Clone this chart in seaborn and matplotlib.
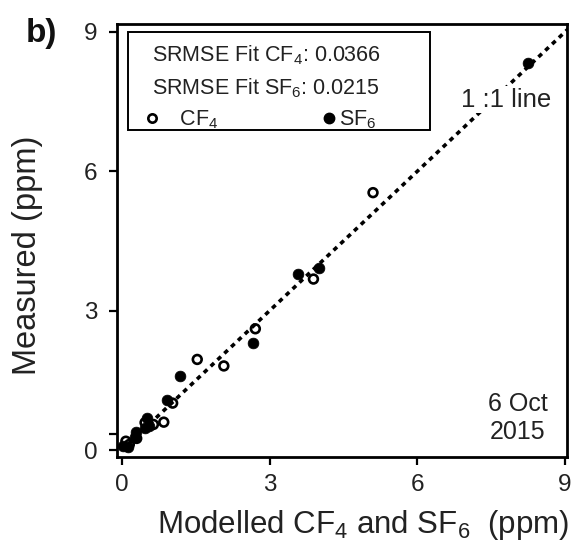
import matplotlib
matplotlib.use("Agg")
import matplotlib.pyplot as plt
import seaborn as sns
import pandas as pd
from matplotlib.patches import Rectangle
from matplotlib.lines import Line2D

# ---- data ----
cf4_model = [5.10, 3.89, 2.71, 2.07, 1.53, 1.03, 0.85, 0.64, 0.47, 0.30, 0.08, 0.15]
cf4_meas  = [5.54, 3.68, 2.61, 1.81, 1.95, 1.01, 0.60, 0.55, 0.59, 0.25, 0.19, 0.12]
sf6_model = [8.25, 4.01, 3.58, 2.67, 1.18, 0.92, 0.50, 0.47, 0.29, 0.26, 0.03, 0.13, 0.55]
sf6_meas  = [8.33, 3.92, 3.79, 2.30, 1.59, 1.07, 0.68, 0.47, 0.38, 0.27, 0.08, 0.07, 0.52]
line_1to1 = [0.0, 9.1]
x_ticks = [0, 3, 6, 9]
y_ticks = [0, 0.34, 3, 6, 9]
y_tick_labels = ["0", "", "3", "6", "9"]
srmse_cf4 = "0.0366"
srmse_sf6 = "0.0215"

sns.set_theme(style="ticks")
plt.rcParams["font.family"] = ["Liberation Sans", "DejaVu Sans"]
plt.rcParams["mathtext.fontset"] = "custom"
plt.rcParams["mathtext.rm"] = "Liberation Sans"
plt.rcParams["mathtext.it"] = "Liberation Sans:italic"
plt.rcParams["mathtext.bf"] = "Liberation Sans:bold"

TXT = "#222222"
fig = plt.figure(figsize=(5.78, 5.51), dpi=100)
ax = fig.add_axes([117/578, 94/551, 450/578, 433/551])

df_cf4 = pd.DataFrame({"model": cf4_model, "meas": cf4_meas})
df_sf6 = pd.DataFrame({"model": sf6_model, "meas": sf6_meas})

ax.plot(line_1to1, line_1to1, color="black", lw=2.6, linestyle=(0, (1.3, 1.3)), zorder=1)

sns.scatterplot(data=df_sf6, x="model", y="meas", ax=ax, marker="o", s=60,
                color="black", edgecolor="black", linewidth=0.5, zorder=3)
sns.scatterplot(data=df_cf4, x="model", y="meas", ax=ax, marker="o", s=40,
                facecolor="none", edgecolor="black", linewidth=1.9, zorder=4)

ax.set_xlim(-0.10, 9.04)
ax.set_ylim(-0.15, 9.17)
ax.set_xticks(x_ticks)
ax.set_xticklabels([str(t) for t in x_ticks])
ax.set_yticks(y_ticks)
ax.set_yticklabels(y_tick_labels)
ax.tick_params(direction="out", length=6, width=1.6, labelsize=17.5, color="black",
               labelcolor=TXT)
ax.tick_params(axis="y", pad=8)
ax.tick_params(axis="x", pad=6)
for sp in ax.spines.values():
    sp.set_visible(True)
    sp.set_linewidth(2.0)
    sp.set_color("black")

ax.set_xlabel("Modelled CF$_4$ and SF$_6$  (ppm)", fontsize=22.5, color=TXT)
ax.set_ylabel("Measured (ppm)", fontsize=23.5, color=TXT)
ax.yaxis.set_label_coords(-0.165, 0.465)
ax.xaxis.set_label_coords(0.548, -0.118)

# legend box
ax.add_patch(Rectangle((0.0244, 0.755), 0.671, 0.227, transform=ax.transAxes,
                       fill=False, edgecolor="black", lw=1.4, zorder=5))
ax.text(0.078, 0.927, "SRMSE Fit CF$_4$: " + srmse_cf4, transform=ax.transAxes,
        fontsize=15.5, va="center", ha="left", color=TXT)
ax.text(0.078, 0.852, "SRMSE Fit SF$_6$: " + srmse_sf6, transform=ax.transAxes,
        fontsize=15.5, va="center", ha="left", color=TXT)
handles = [Line2D([], [], marker="o", ls="none", mfc="none", mec="black", mew=1.9, ms=6),
           Line2D([], [], marker="o", ls="none", mfc="black", mec="black", ms=7.5)]
leg = ax.legend(handles, ["   CF$_4$", "SF$_6$"], ncol=2, frameon=False,
                loc="center left", bbox_to_anchor=(0.018, 0.778), fontsize=15.5,
                handletextpad=-0.3, columnspacing=4.4, handlelength=1.5, borderpad=0)
for t in leg.get_texts():
    t.set_color(TXT)

ax.text(0.764, 0.825, "1 :1 line", transform=ax.transAxes, fontsize=18.5,
        va="center", ha="left", color=TXT,
        bbox=dict(facecolor="white", edgecolor="none", pad=1))
ax.text(0.891, 0.122, "6 Oct", transform=ax.transAxes, fontsize=18,
        va="center", ha="center", color=TXT)
ax.text(0.891, 0.058, "2015", transform=ax.transAxes, fontsize=18,
        va="center", ha="center", color=TXT)

fig.text(0.045, 0.968, "b)", fontsize=24, fontweight="bold", va="top", ha="left", color="#111111")

fig.savefig("out.png", dpi=100, facecolor="white")
